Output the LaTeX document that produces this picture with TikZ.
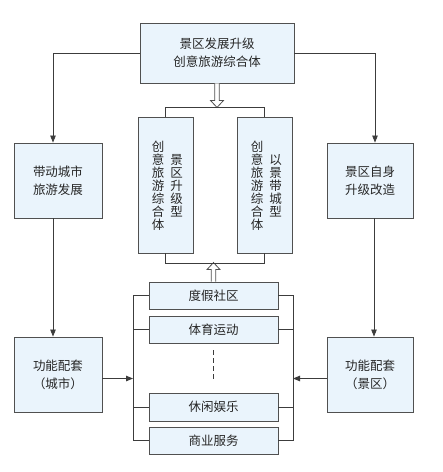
\documentclass[tikz,border=0pt]{standalone}
\usepackage{fontspec}
\setmainfont{Noto Sans CJK SC}
\usetikzlibrary{arrows.meta}
\definecolor{boxfill}{HTML}{EAF4FC}
\definecolor{boxline}{HTML}{505050}
\definecolor{linec}{HTML}{3C3C3C}
\definecolor{txt}{HTML}{262626}
\begin{document}
\begin{tikzpicture}[x=1pt,y=-1pt,
  box/.style={draw=boxline, fill=boxfill, line width=0.9pt, inner sep=0pt, text=txt, align=center,
    font=\fontsize{12.5}{18}\selectfont},
  vtext/.style={inner sep=0pt, text=txt, align=center, font=\fontsize{12.5}{13}\selectfont},
  conn/.style={draw=linec, line width=0.8pt},
  arr/.style={conn, -{Triangle[length=7pt,width=5.5pt]}},
  hollow/.style={draw=boxline, fill=white, line width=0.8pt, line join=miter},
  dotline/.style={draw=linec, line width=1.6pt, dash pattern=on 5pt off 3pt}
]
\useasboundingbox[fill=white] (0,0) rectangle (443,472);

% top box
\node[box, minimum width=154pt, minimum height=60pt] (top) at (217,53) {景区发展升级\\创意旅游综合体};

% side boxes
\node[box, minimum width=88pt, minimum height=75pt] (l1) at (58,180.5) {带动城市\\旅游发展};
\node[box, minimum width=88pt, minimum height=75pt] (l2) at (58,374.5) {功能配套\\（城市）};
\node[box, minimum width=86pt, minimum height=75pt] (r1) at (370,180.5) {景区自身\\升级改造};
\node[box, minimum width=86pt, minimum height=75pt] (r2) at (370,374.5) {功能配套\\（景区）};

% vertical boxes
\node[box, minimum width=55pt, minimum height=136pt] (v1) at (165.5,185) {};
\node[box, minimum width=55pt, minimum height=136pt] (v2) at (264.5,185) {};
\node[vtext] (v1a) at (158,185.5) {创\\意\\旅\\游\\综\\合\\体};
\node[vtext] (v1b) at (176.5,185.5) {景\\区\\升\\级\\型};
\node[vtext] (v2a) at (257,185.5) {创\\意\\旅\\游\\综\\合\\体};
\node[vtext] (v2b) at (275.5,185.5) {以\\景\\带\\城\\型};

% list boxes
\node[box, minimum width=129pt, minimum height=27pt] (dj) at (213.5,295.5) {度假社区};
\node[box, minimum width=129pt, minimum height=27pt] (ty) at (213.5,329.5) {体育运动};
\node[box, minimum width=129pt, minimum height=28pt] (xx) at (213.5,407) {休闲娱乐};
\node[box, minimum width=129pt, minimum height=27pt] (sy) at (213.5,440.5) {商业服务};

\coordinate (tl) at (53,53);
\coordinate (tr) at (375,53);
\coordinate (lb) at (133,0);
\coordinate (rb) at (293,0);

% top connectors
\draw[conn] (top.west) -- (tl);
\draw[arr] (tl) -- (tl |- l1.north);
\draw[arr] (l1.south -| tl) -- (l2.north -| tl);
\draw[conn] (top.east) -- (tr);
\draw[arr] (tr) -- (tr |- r1.north);
\draw[arr] ([xshift=-1pt]r1.south -| tr) -- ([xshift=-1pt]r2.north -| tr);

% hollow arrows
\draw[hollow] ([xshift=-2.3pt]top.south) -- ++(0,17) -- ++(-4.2,0) -- ++(6.5,7) -- ++(6.5,-7) -- ++(-4.2,0) -- ++(0,-17);
\draw[hollow] ([xshift=-2.3pt]dj.north) -- ++(0,-12) -- ++(-4.2,0) -- ++(6.5,-7) -- ++(6.5,7) -- ++(-4.2,0) -- ++(0,12);

% brackets for vertical boxes
\draw[conn] (v1.north) -- ++(0,-9) -| (v2.north);
\draw[conn] (v1.south) -- ++(0,10) -| (v2.south);

% list brackets
\draw[conn] (dj.west) -- (dj.west -| lb) -- (sy.west -| lb) -- (sy.west);
\draw[conn] (ty.west) -- (ty.west -| lb);
\draw[conn] (xx.west) -- (xx.west -| lb);
\draw[conn] (dj.east) -- (dj.east -| rb) -- (sy.east -| rb) -- (sy.east);
\draw[conn] (ty.east) -- (ty.east -| rb);
\draw[conn] (xx.east) -- (xx.east -| rb);

\draw[arr] ([yshift=-4pt]l2.east) -- ([yshift=-4pt]l2.east -| lb);
\draw[arr] ([yshift=-4pt]r2.west) -- ([yshift=-4pt]r2.west -| rb);

% dots
\draw[dotline] ([yshift=-7pt]ty.south) -- ([yshift=13pt]xx.north);
\end{tikzpicture}
\end{document}
